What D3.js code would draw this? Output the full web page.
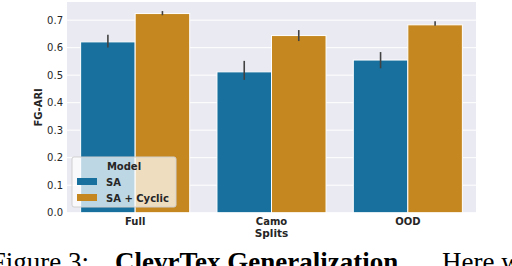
<!DOCTYPE html>
<html>
<head>
<meta charset="utf-8">
<script src="https://cdn.jsdelivr.net/npm/d3@7"></script>
<style>
  body { margin: 0; background: #fff; }
  svg { display: block; }
</style>
</head>
<body>
<div id="chart"></div>
<script>
// Data
var splits = ["Full", "Camo", "OOD"];
var models = ["SA", "SA + Cyclic"];
var saMean = [0.621, 0.512, 0.555];
var saLow = [0.601, 0.483, 0.525];
var saHigh = [0.647, 0.552, 0.584];
var cyclicMean = [0.724, 0.644, 0.683];
var cyclicLow = [0.718, 0.624, 0.680];
var cyclicHigh = [0.733, 0.664, 0.696];
var yTicks = [0, 0.1, 0.2, 0.3, 0.4, 0.5, 0.6, 0.7];
var colors = ["#17709e", "#c5871f"];

var W = 512, H = 266;
var margin = {top: 2, right: 36, bottom: 53.3, left: 67};
var width = W - margin.left - margin.right;
var height = H - margin.top - margin.bottom;

var svg = d3.select("#chart").append("svg")
  .attr("width", W).attr("height", H);

var chart = svg.append("g")
  .attr("transform", "translate(" + margin.left + "," + margin.top + ")");

// build rows for the bars
var rows = [];
splits.forEach(function(s, i) {
  rows.push({split: s, model: models[0], mean: saMean[i], lo: saLow[i], hi: saHigh[i]});
  rows.push({split: s, model: models[1], mean: cyclicMean[i], lo: cyclicLow[i], hi: cyclicHigh[i]});
});

var x = d3.scaleBand().domain(splits).range([0, width]).paddingInner(0).paddingOuter(0);
var xInner = d3.scaleBand().domain(models).range([0, x.bandwidth() * 0.8]);
var y = d3.scaleLinear().domain([0, 0.766]).range([height, 0]);
var color = d3.scaleOrdinal().domain(models).range(colors);

// background + grid
chart.append("rect")
  .attr("width", width).attr("height", height)
  .attr("fill", "#eaeaf2");

chart.append("g").selectAll("line")
  .data(yTicks)
  .enter().append("line")
  .attr("x1", 0).attr("x2", width)
  .attr("y1", function(d) { return y(d); })
  .attr("y2", function(d) { return y(d); })
  .attr("stroke", "#fff").attr("stroke-width", 1);

// bars
var offset = x.bandwidth() * 0.1;
chart.append("g").selectAll("rect")
  .data(rows)
  .enter().append("rect")
  .attr("x", function(d) { return x(d.split) + offset + xInner(d.model); })
  .attr("y", function(d) { return y(d.mean); })
  .attr("width", xInner.bandwidth())
  .attr("height", function(d) { return height - y(d.mean); })
  .attr("fill", function(d) { return color(d.model); })
  .attr("stroke", "#fff").attr("stroke-width", 1);

// error bars
chart.append("g").selectAll("line")
  .data(rows)
  .enter().append("line")
  .attr("x1", function(d) { return x(d.split) + offset + xInner(d.model) + xInner.bandwidth() / 2; })
  .attr("x2", function(d) { return x(d.split) + offset + xInner(d.model) + xInner.bandwidth() / 2; })
  .attr("y1", function(d) { return y(d.lo); })
  .attr("y2", function(d) { return y(d.hi); })
  .attr("stroke", "#424242").attr("stroke-width", 1.6);

// axes
var font = "DejaVu Sans, sans-serif";
var yAxis = chart.append("g")
  .call(d3.axisLeft(y).tickValues(yTicks).tickFormat(d3.format(".1f")).tickSize(0).tickPadding(4));
yAxis.select(".domain").remove();
yAxis.selectAll("text")
  .attr("font-family", font).attr("font-size", "10px").attr("fill", "#262626");

var xAxis = chart.append("g")
  .attr("transform", "translate(0," + height + ")")
  .call(d3.axisBottom(x).tickSize(0).tickPadding(5));
xAxis.select(".domain").remove();
xAxis.selectAll("text")
  .attr("font-family", font).attr("font-size", "10px")
  .attr("font-weight", "bold").attr("fill", "#262626");

chart.append("text")
  .attr("x", width / 2).attr("y", height + 24)
  .attr("text-anchor", "middle")
  .attr("font-family", font).attr("font-size", "10.5px").attr("font-weight", "bold")
  .attr("fill", "#262626")
  .text("Splits");

chart.append("text")
  .attr("transform", "translate(" + (-25) + "," + (height / 2) + ") rotate(-90)")
  .attr("text-anchor", "middle")
  .attr("font-family", font).attr("font-size", "10px").attr("font-weight", "bold")
  .attr("fill", "#262626")
  .text("FG-ARI");

// legend
var legend = chart.append("g")
  .attr("transform", "translate(" + 5 + "," + 155 + ")");
legend.append("rect")
  .attr("width", 104).attr("height", 50).attr("rx", 2)
  .attr("fill", "#fff").attr("fill-opacity", 0.72)
  .attr("stroke", "#d0d0d0").attr("stroke-width", 1);
legend.append("text")
  .attr("x", 52).attr("y", 13)
  .attr("text-anchor", "middle")
  .attr("font-family", font).attr("font-size", "10px").attr("font-weight", "bold")
  .attr("fill", "#262626")
  .text("Model");
var items = legend.selectAll("g.item")
  .data(models)
  .enter().append("g")
  .attr("transform", function(d, i) { return "translate(5," + (21 + i * 16) + ")"; });
items.append("rect")
  .attr("width", 20).attr("height", 7)
  .attr("fill", function(d) { return color(d); });
items.append("text")
  .attr("x", 29).attr("y", 7.5)
  .attr("font-family", font).attr("font-size", "10px").attr("font-weight", "bold")
  .attr("fill", "#262626")
  .text(function(d) { return d; });

// caption (cut off at the bottom of the crop)
var serif = "Liberation Serif, Times New Roman, serif";
svg.append("text")
  .attr("x", 89).attr("y", 271)
  .attr("text-anchor", "end")
  .attr("font-family", serif).attr("font-size", "27px")
  .attr("fill", "#000")
  .text("Figure 3:");
svg.append("text")
  .attr("x", 115).attr("y", 271)
  .attr("font-family", serif).attr("font-size", "27px").attr("font-weight", "bold")
  .attr("fill", "#000")
  .text("ClevrTex Generalization.");
svg.append("text")
  .attr("x", 442).attr("y", 271)
  .attr("font-family", serif).attr("font-size", "27px")
  .attr("fill", "#000")
  .text("Here we show");
</script>
</body>
</html>
